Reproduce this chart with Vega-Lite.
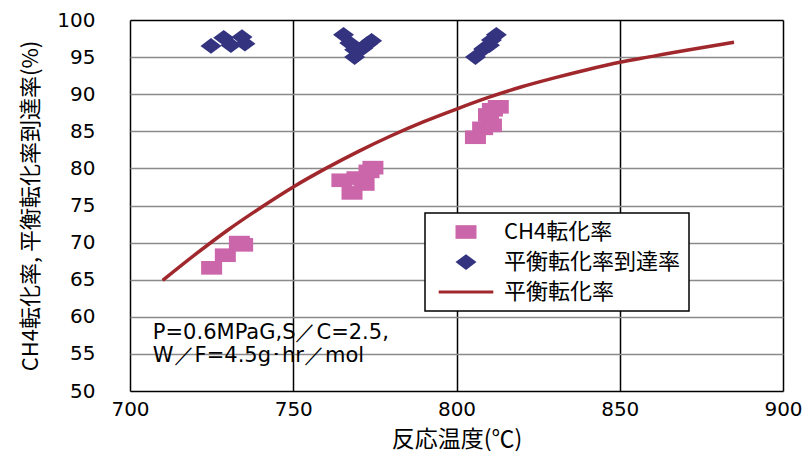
{
  "$schema": "https://vega.github.io/schema/vega-lite/v6.json",
  "width": 653,
  "height": 371,
  "autosize": {"type": "none"},
  "padding": {"left": 130, "top": 20, "right": 23, "bottom": 63},
  "background": "white",
  "config": {
    "view": {"stroke": null},
    "font": "DejaVu Sans, Noto Sans CJK JP"
  },
  "data": {
    "values": [
      {"series": "平衡転化率", "temp": 710, "rate": 64.9},
      {"series": "平衡転化率", "temp": 720, "rate": 68.4},
      {"series": "平衡転化率", "temp": 730, "rate": 71.7},
      {"series": "平衡転化率", "temp": 740, "rate": 74.7},
      {"series": "平衡転化率", "temp": 750, "rate": 77.5},
      {"series": "平衡転化率", "temp": 760, "rate": 80.0},
      {"series": "平衡転化率", "temp": 770, "rate": 82.3},
      {"series": "平衡転化率", "temp": 780, "rate": 84.4},
      {"series": "平衡転化率", "temp": 790, "rate": 86.3},
      {"series": "平衡転化率", "temp": 800, "rate": 88.0},
      {"series": "平衡転化率", "temp": 810, "rate": 89.6},
      {"series": "平衡転化率", "temp": 820, "rate": 91.0},
      {"series": "平衡転化率", "temp": 830, "rate": 92.2},
      {"series": "平衡転化率", "temp": 840, "rate": 93.3},
      {"series": "平衡転化率", "temp": 850, "rate": 94.3},
      {"series": "平衡転化率", "temp": 860, "rate": 95.1},
      {"series": "平衡転化率", "temp": 870, "rate": 95.9},
      {"series": "平衡転化率", "temp": 885, "rate": 97.0},
      {"series": "CH4転化率", "temp": 725, "rate": 66.6},
      {"series": "CH4転化率", "temp": 729.2, "rate": 68.3},
      {"series": "CH4転化率", "temp": 733.5, "rate": 70.0},
      {"series": "CH4転化率", "temp": 734.5, "rate": 69.7},
      {"series": "CH4転化率", "temp": 764.9, "rate": 78.4},
      {"series": "CH4転化率", "temp": 768.0, "rate": 76.7},
      {"series": "CH4転化率", "temp": 771.7, "rate": 77.9},
      {"series": "CH4転化率", "temp": 773.2, "rate": 79.6},
      {"series": "CH4転化率", "temp": 774.4, "rate": 80.1},
      {"series": "CH4転化率", "temp": 769.5, "rate": 78.7},
      {"series": "CH4転化率", "temp": 805.8, "rate": 84.2},
      {"series": "CH4転化率", "temp": 808.0, "rate": 85.4},
      {"series": "CH4転化率", "temp": 810.7, "rate": 85.8},
      {"series": "CH4転化率", "temp": 809.8, "rate": 87.2},
      {"series": "CH4転化率", "temp": 811.0, "rate": 87.9},
      {"series": "CH4転化率", "temp": 812.8, "rate": 88.3},
      {"series": "平衡転化率到達率", "temp": 724.8, "rate": 96.5},
      {"series": "平衡転化率到達率", "temp": 728.7, "rate": 97.6},
      {"series": "平衡転化率到達率", "temp": 730.9, "rate": 96.6},
      {"series": "平衡転化率到達率", "temp": 734.3, "rate": 97.7},
      {"series": "平衡転化率到達率", "temp": 735.2, "rate": 96.8},
      {"series": "平衡転化率到達率", "temp": 765.4, "rate": 98.0},
      {"series": "平衡転化率到達率", "temp": 767.3, "rate": 96.9},
      {"series": "平衡転化率到達率", "temp": 768.8, "rate": 96.0},
      {"series": "平衡転化率到達率", "temp": 768.8, "rate": 95.0},
      {"series": "平衡転化率到達率", "temp": 771.3, "rate": 96.2},
      {"series": "平衡転化率到達率", "temp": 772.8, "rate": 96.8},
      {"series": "平衡転化率到達率", "temp": 774.0, "rate": 97.2},
      {"series": "平衡転化率到達率", "temp": 805.8, "rate": 95.0},
      {"series": "平衡転化率到達率", "temp": 808.3, "rate": 96.1},
      {"series": "平衡転化率到達率", "temp": 810.1, "rate": 96.6},
      {"series": "平衡転化率到達率", "temp": 810.7, "rate": 97.3},
      {"series": "平衡転化率到達率", "temp": 812.2, "rate": 98.0}
    ]
  },
  "encoding": {
    "x": {
      "field": "temp", "type": "quantitative",
      "scale": {"domain": [700, 900], "nice": false, "zero": false},
      "axis": {
        "title": "反応温度(℃)",
        "values": [700, 750, 800, 850, 900],
        "domain": false, "ticks": false,
        "grid": true, "gridColor": "black", "gridWidth": 1.5, "gridOpacity": 1,
        "labelFontSize": 20, "labelColor": "black", "labelPadding": 8,
        "labelFlush": false,
        "titleFontSize": 23, "titleFontWeight": "normal", "titleColor": "black", "titlePadding": 9,
        "titleFont": "Noto Sans CJK JP"
      }
    },
    "y": {
      "field": "rate", "type": "quantitative",
      "scale": {"domain": [50, 100], "nice": false, "zero": false},
      "axis": {
        "title": "CH4転化率, 平衡転化率到達率(%)",
        "values": [50, 55, 60, 65, 70, 75, 80, 85, 90, 95, 100],
        "domain": false, "ticks": false,
        "grid": true,
        "gridColor": {"condition": {"test": "datum.value === 50 || datum.value === 100", "value": "black"}, "value": "#8a8a8a"},
        "gridWidth": 1.5, "gridOpacity": 1,
        "labelFontSize": 20, "labelColor": "black", "labelPadding": 35,
        "labelFlush": false,
        "titleFontSize": 22, "titleFontWeight": "normal", "titleColor": "black", "titlePadding": 14,
        "titleFont": "Noto Sans CJK JP"
      }
    }
  },
  "layer": [
    {
      "transform": [{"filter": "datum.series === '平衡転化率'"}],
      "mark": {"type": "line", "strokeWidth": 3.5, "interpolate": "monotone"},
      "encoding": {
        "color": {
          "field": "series", "type": "nominal",
          "scale": {"domain": ["CH4転化率", "平衡転化率到達率", "平衡転化率"], "range": ["#cc66aa", "#333380", "#a0282d"]},
          "legend": {
            "title": null,
            "orient": "none", "legendX": 295, "legendY": 193,
            "direction": "vertical",
            "labelFont": "Noto Sans CJK JP", "labelFontSize": 22, "labelColor": "black",
            "labelLimit": 500,
            "labelOffset": 27, "symbolOffset": 22, "symbolSize": 441,
            "rowPadding": 8, "padding": 8,
            "strokeColor": "black", "fillColor": "white",
            "encode": {
              "legend": {"update": {"strokeWidth": {"value": 1.5}}},
              "symbols": {
                "update": {
                  "fill": {"signal": "datum.value === '平衡転化率' ? 'transparent' : scale('color', datum.value)"},
                  "stroke": {"signal": "scale('color', datum.value)"},
                  "strokeWidth": {"signal": "datum.value === '平衡転化率' ? 3 : 0"},
                  "opacity": {"value": 1},
                  "size": {"value": 441},
                  "shape": {"signal": "datum.value === 'CH4転化率' ? 'M-1,-0.65H1V0.65H-1Z' : (datum.value === '平衡転化率到達率' ? 'M-1,0L0,-0.75L1,0L0,0.75Z' : 'M-2.6,0H2.6')"}
                }
              }
            }
          }
        }
      }
    },
    {
      "transform": [{"filter": "datum.series !== '平衡転化率'"}],
      "mark": {"type": "point", "filled": true, "opacity": 1, "size": 441, "strokeWidth": 0},
      "encoding": {
        "color": {"field": "series", "type": "nominal"},
        "shape": {
          "field": "series", "type": "nominal",
          "scale": {"domain": ["CH4転化率", "平衡転化率到達率", "平衡転化率"], "range": ["M-1,-0.65H1V0.65H-1Z", "M-1,0L0,-0.75L1,0L0,0.75Z", "M-2.6,0H2.6"]}
        }
      }
    },
    {
      "transform": [{"filter": "datum.series === '平衡転化率' && datum.temp === 710"}],
      "mark": {
        "type": "text",
        "text": ["P=0.6MPaG,S／C=2.5,", "W／F=4.5g･hr／mol"],
        "align": "left", "baseline": "middle",
        "font": "DejaVu Sans", "fontWeight": "normal",
        "fontSize": 21, "lineHeight": 23, "color": "black"
      },
      "encoding": {
        "x": {"datum": 707},
        "y": {"datum": 57.8}
      }
    }
  ]
}
